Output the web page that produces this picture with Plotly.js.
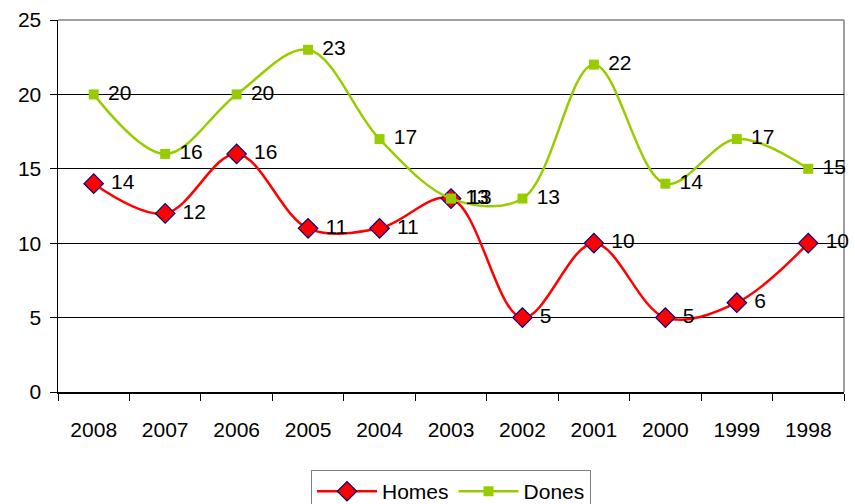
<!DOCTYPE html>
<html>
<head>
<meta charset="utf-8">
<script src="https://cdn.plot.ly/plotly-3.0.1.min.js"></script>
<style>html,body{margin:0;padding:0;background:#fff;}#chart{width:855px;height:504px;}</style>
</head>
<body>
<div id="chart"></div>
<script>
var years = ["2008","2007","2006","2005","2004","2003","2002","2001","2000","1999","1998"];
var homes = [14,12,16,11,11,13,5,10,5,6,10];
var dones = [20,16,20,23,17,13,13,22,14,17,15];
var yTicks = [0,5,10,15,20,25];

var font = {family: "Liberation Sans, Arial, sans-serif", size: 21, color: "#000"};

var traces = [
  {
    x: years, y: homes, name: "Homes", type: "scatter", mode: "lines+markers+text",
    text: homes.map(function(v){return "\u2004" + v;}), textposition: "middle right", textfont: font,
    line: {color: "#FF0000", width: 2.5, shape: "spline", smoothing: 1},
    marker: {symbol: "diamond", size: 15, color: "#FF0000", line: {color: "#000080", width: 1.2}},
    cliponaxis: false
  },
  {
    x: years, y: dones, name: "Dones", type: "scatter", mode: "lines+markers+text",
    text: dones.map(function(v){return "\u2004" + v;}), textposition: "middle right", textfont: font,
    line: {color: "#99CC00", width: 2.5, shape: "spline", smoothing: 1},
    marker: {symbol: "square", size: 10, color: "#99CC00"},
    cliponaxis: false
  }
];

var layout = {
  width: 855, height: 504,
  margin: {l: 58, r: 11, t: 20, b: 112, autoexpand: false},
  paper_bgcolor: "#fff", plot_bgcolor: "#fff",
  font: font,
  showlegend: true,
  legend: {
    orientation: "h", x: 0.5, xanchor: "center", y: -0.21, yanchor: "top",
    bordercolor: "#808080", borderwidth: 1, font: {family: font.family, size: 21, color: "#000"},
    traceorder: "normal", itemwidth: 60
  },
  xaxis: {
    type: "category", range: [-0.5, years.length - 0.5], tickson: "boundaries", ticks: "outside", ticklen: 7, tickcolor: "#000",
    showline: true, linecolor: "#000", linewidth: 1.5, showgrid: false, zeroline: false,
    tickfont: font, ticklabelstandoff: 18, fixedrange: true, automargin: false
  },
  yaxis: {
    range: [0, 25], tickvals: yTicks, ticktext: yTicks.map(String), ticks: "outside", ticklen: 7, tickcolor: "#000",
    showline: true, linecolor: "#000", linewidth: 1.5, showgrid: true, gridcolor: "#000", gridwidth: 1,
    zeroline: false, tickfont: font, ticklabelstandoff: 4, fixedrange: true, automargin: false
  },
  shapes: [
    {type: "line", xref: "paper", yref: "paper", x0: 0, x1: 1, y0: 1, y1: 1, line: {color: "#808080", width: 1.5}, layer: "above"},
    {type: "line", xref: "paper", yref: "paper", x0: 1, x1: 1, y0: 0, y1: 1, line: {color: "#808080", width: 1.5}, layer: "below"}
  ]
};

Plotly.newPlot("chart", traces, layout, {displayModeBar: false, staticPlot: true});
</script>
</body>
</html>
